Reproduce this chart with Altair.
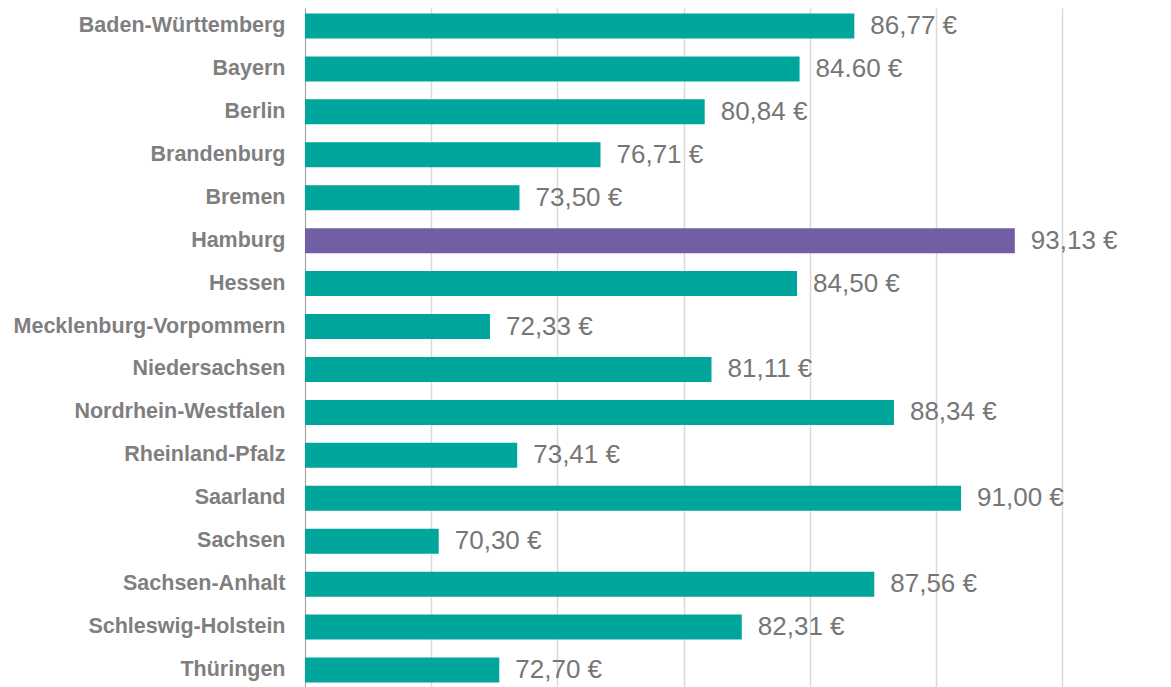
import altair as alt
import pandas as pd

states = ["Baden-Württemberg", "Bayern", "Berlin", "Brandenburg", "Bremen", "Hamburg",
          "Hessen", "Mecklenburg-Vorpommern", "Niedersachsen", "Nordrhein-Westfalen",
          "Rheinland-Pfalz", "Saarland", "Sachsen", "Sachsen-Anhalt", "Schleswig-Holstein",
          "Thüringen"]
values = [86.77, 84.60, 80.84, 76.71, 73.50, 93.13, 84.50, 72.33, 81.11, 88.34,
          73.41, 91.00, 70.30, 87.56, 82.31, 72.70]
labels = ["86,77 €", "84.60 €", "80,84 €", "76,71 €", "73,50 €", "93,13 €", "84,50 €",
          "72,33 €", "81,11 €", "88,34 €", "73,41 €", "91,00 €", "70,30 €", "87,56 €",
          "82,31 €", "72,70 €"]
highlight = "Hamburg"
axis_min, axis_max = 65, 95
grid_values = [65, 70, 75, 80, 85, 90, 95]

df = pd.DataFrame({"state": states, "value": values, "label": labels})
df["base"] = axis_min

TEAL = "#00A59B"
PURPLE = "#715EA4"

y_enc = alt.Y("state:N", sort=states, title=None,
              scale=alt.Scale(paddingInner=0.418, paddingOuter=0.128),
              axis=alt.Axis(ticks=False, labelPadding=20, labelFont="Liberation Sans",
                            labelFontWeight="bold", labelFontSize=21.5, labelColor="#7F7F7F",
                            domainColor="#A6A6A6", domainWidth=1, grid=False,
                            labelLimit=400))
x_scale = alt.Scale(domain=[axis_min, axis_max], nice=False, zero=False)

bars = alt.Chart(df).mark_bar().encode(
    y=y_enc,
    x=alt.X("value:Q", scale=x_scale, title=None,
            axis=alt.Axis(values=grid_values, labels=False, ticks=False, domain=False,
                          grid=True, gridColor="#D9D9D9", gridWidth=1.5)),
    x2="base:Q",
    color=alt.condition(alt.datum.state == highlight, alt.value(PURPLE), alt.value(TEAL)),
)

text = alt.Chart(df).mark_text(align="left", baseline="middle", dx=16,
                               font="Liberation Sans", fontSize=26, color="#767676").encode(
    y=alt.Y("state:N", sort=states),
    x=alt.X("value:Q", scale=x_scale),
    text="label:N",
)

chart = (bars + text).properties(
    width=757, height=680,
    autosize=alt.AutoSizeParams(type="none"),
    padding={"left": 297, "top": 0, "right": 100, "bottom": 0},
).configure_view(stroke=None)

chart.save("out.html", embed_options={"renderer": "svg", "actions": False})
